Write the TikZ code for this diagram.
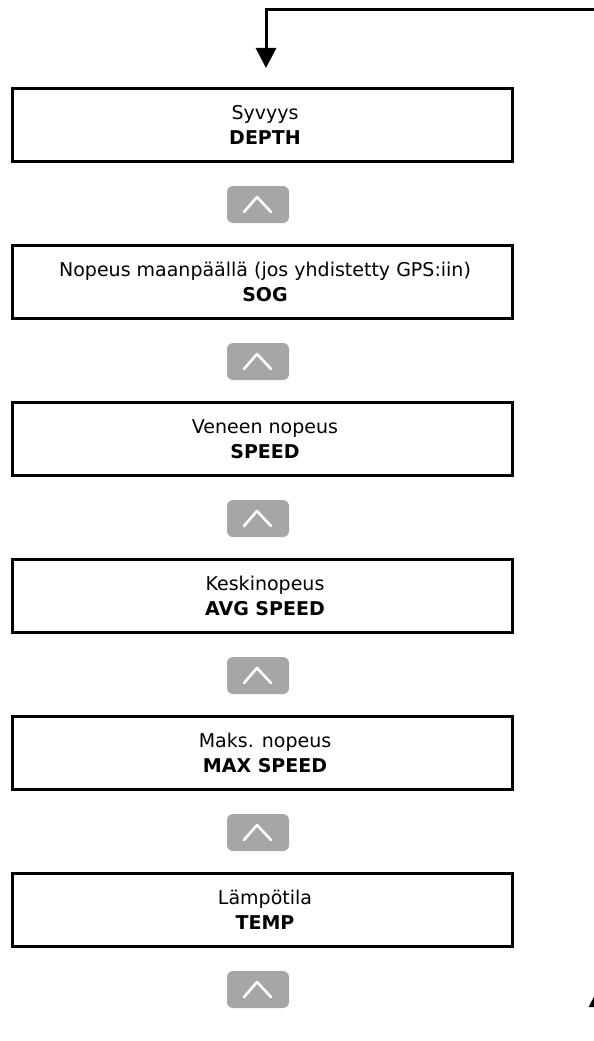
\documentclass[tikz,border=0pt]{standalone}
\usepackage{fontspec}
\setmainfont{DejaVu Sans}
\usetikzlibrary{arrows.meta,calc}
\definecolor{btngray}{HTML}{A6A6A6}
\tikzset{
  menubox/.style={draw=black, line width=3pt, fill=white, minimum width=500pt, minimum height=73pt,
    inner sep=0pt},
  menutext/.style={align=center, inner sep=0pt, font=\fontsize{19pt}{25pt}\selectfont},
  btn/.style={fill=btngray, rounded corners=6pt, minimum width=62pt, minimum height=37pt, inner sep=0pt},
  chev/.style={draw=white, line width=2.6pt, line cap=round, line join=round},
  conn/.style={draw=black, line width=3pt, -{Triangle[length=20pt,width=20pt]}},
}
\begin{document}
\begin{tikzpicture}[x=1pt,y=-1pt]
\path[use as bounding box] (0,0) rectangle (594,1041);
\clip (0,0) rectangle (594,1041);
% boxes
\foreach \i/\y/\txt in {1/124.5/{Syvyys\\\textbf{DEPTH}},
  2/281.5/{Nopeus maanpäällä (jos yhdistetty GPS:iin)\\\textbf{SOG}},
  3/438.5/{Veneen nopeus\\\textbf{SPEED}},
  4/595.5/{Keskinopeus\\\textbf{AVG SPEED}},
  5/752.5/{Maks. nopeus\\\textbf{MAX SPEED}},
  6/909.5/{Lämpötila\\\textbf{TEMP}}}{
  \node[menubox] (m\i) at (262,\y) {};
  \node[menutext] (t\i) at ($(m\i.center)+(3,0.5)$) {\txt};
}
% buttons
\foreach \i/\y in {1/204.5,2/361.5,3/518.5,4/675.5,5/832.5,6/989.5}{
  \node[btn] (b\i) at (258,\y) {};
  \draw[chev] ($(b\i.center)+(-14,7.5)$) -- ($(b\i.center)+(-1,-7.5)$) -- ($(b\i.center)+(13,7.5)$);
}
% loop connector at top
\coordinate (loopR) at (600,10);
\coordinate (loopL) at (266,10);
\coordinate (loopEnd) at (266,68);
\draw[conn] (loopR) -- (loopL) -- (loopEnd);
% partial arrow at bottom right
\coordinate (brS) at (599,1060);
\coordinate (brE) at (599,987);
\draw[conn] (brS) -- (brE);
\end{tikzpicture}
\end{document}
